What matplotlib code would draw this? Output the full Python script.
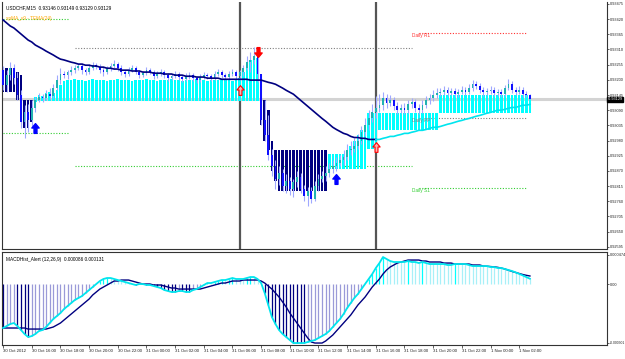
import matplotlib
matplotlib.use('Agg')
import matplotlib.pyplot as plt
import numpy as np
from matplotlib.path import Path

plt.rcParams['font.family'] = ['Liberation Sans Narrow', 'Liberation Sans', 'DejaVu Sans']

# ---------------- data (prices in points: 1 point = 0.00001) ----------------
tick_labels = ["30 Oct 2012", "30 Oct 16:00", "30 Oct 18:00", "30 Oct 20:00", "30 Oct 22:00",
               "31 Oct 00:00", "31 Oct 02:00", "31 Oct 04:00", "31 Oct 06:00", "31 Oct 08:00",
               "31 Oct 10:00", "31 Oct 12:00", "31 Oct 14:00", "31 Oct 16:00", "31 Oct 18:00",
               "31 Oct 20:00", "31 Oct 22:00", "1 Nov 00:00", "1 Nov 02:00"]
tick_bars = [0, 8, 16, 24, 32, 40, 48, 56, 64, 72, 80, 88, 96, 104, 112, 120, 128, 136, 144]

opens = [93235, 93181, 93217, 93242, 93206, 93144, 93046, 93082, 93053, 93097,
         93126, 93137, 93133, 93148, 93141, 93170, 93199, 93221, 93217, 93228,
         93235, 93242, 93250, 93235, 93228, 93242, 93253, 93246, 93235, 93228,
         93239, 93250, 93257, 93242, 93228, 93221, 93235, 93242, 93228, 93217,
         93224, 93235, 93228, 93213, 93221, 93228, 93217, 93206, 93213, 93221,
         93210, 93202, 93213, 93217, 93206, 93199, 93210, 93217, 93213, 93206,
         93221, 93228, 93217, 93210, 93221, 93228, 93213, 93228, 93242, 93264,
         93272, 93286, 93221, 93053, 92999, 92926, 92889, 92842, 92864, 92817,
         92835, 92806, 92828, 92849, 92806, 92780, 92798, 92769, 92817, 92842,
         92853, 92864, 92878, 92889, 92900, 92908, 92922, 92944, 92951, 92962,
         92980, 93010, 93035, 93060, 93082, 93097, 93108, 93133, 93115, 93126,
         93104, 93090, 93097, 93090, 93111, 93119, 93097, 93090, 93108, 93126,
         93133, 93144, 93151, 93155, 93162, 93151, 93159, 93148, 93155, 93162,
         93155, 93170, 93184, 93177, 93162, 93155, 93159, 93162, 93151, 93155,
         93148, 93170, 93184, 93162, 93155, 93162, 93148, 93146]
highs = [93250, 93235, 93264, 93257, 93228, 93162, 93108, 93111, 93126, 93137,
         93151, 93148, 93162, 93170, 93184, 93217, 93242, 93232, 93235, 93250,
         93253, 93257, 93261, 93242, 93257, 93264, 93261, 93257, 93246, 93250,
         93261, 93272, 93264, 93253, 93235, 93246, 93253, 93250, 93235, 93232,
         93246, 93242, 93235, 93232, 93239, 93235, 93224, 93221, 93232, 93228,
         93217, 93224, 93228, 93224, 93213, 93221, 93228, 93224, 93221, 93232,
         93239, 93235, 93224, 93232, 93239, 93235, 93235, 93253, 93286, 93301,
         93319, 93293, 93221, 93126, 93071, 92951, 92908, 92889, 92878, 92857,
         92849, 92842, 92871, 92864, 92820, 92813, 92813, 92835, 92857, 92871,
         92886, 92900, 92908, 92922, 92929, 92944, 92966, 92980, 92988, 93002,
         93031, 93060, 93090, 93111, 93141, 93148, 93155, 93148, 93144, 93137,
         93119, 93111, 93115, 93126, 93133, 93130, 93111, 93126, 93141, 93148,
         93162, 93170, 93170, 93177, 93173, 93170, 93170, 93166, 93177, 93173,
         93184, 93199, 93195, 93188, 93173, 93170, 93177, 93173, 93166, 93166,
         93181, 93202, 93195, 93173, 93177, 93173, 93159, 93149]
lows = [93162, 93155, 93199, 93184, 93126, 93024, 92988, 93010, 93031, 93082,
        93119, 93119, 93126, 93130, 93133, 93162, 93184, 93206, 93202, 93217,
        93224, 93235, 93221, 93217, 93221, 93235, 93239, 93224, 93213, 93221,
        93232, 93242, 93232, 93217, 93210, 93213, 93228, 93221, 93206, 93210,
        93217, 93221, 93202, 93206, 93213, 93206, 93195, 93199, 93206, 93199,
        93192, 93195, 93202, 93195, 93188, 93192, 93202, 93202, 93195, 93199,
        93213, 93206, 93199, 93202, 93213, 93202, 93199, 93213, 93235, 93228,
        93257, 93192, 93035, 92980, 92908, 92853, 92806, 92820, 92798, 92791,
        92784, 92777, 92813, 92791, 92762, 92744, 92755, 92762, 92798, 92828,
        92835, 92849, 92864, 92871, 92886, 92893, 92908, 92926, 92937, 92951,
        92966, 92995, 93017, 93046, 93060, 93082, 93090, 93097, 93104, 93090,
        93075, 93079, 93075, 93079, 93097, 93082, 93075, 93079, 93097, 93111,
        93122, 93133, 93141, 93144, 93141, 93144, 93137, 93137, 93148, 93144,
        93148, 93159, 93166, 93151, 93141, 93144, 93148, 93141, 93141, 93137,
        93141, 93162, 93151, 93144, 93148, 93137, 93137, 93129]
closes = [93181, 93217, 93242, 93206, 93144, 93046, 93082, 93053, 93097, 93126,
          93137, 93133, 93148, 93141, 93170, 93199, 93221, 93217, 93228, 93235,
          93242, 93250, 93235, 93228, 93242, 93253, 93246, 93235, 93228, 93239,
          93250, 93257, 93242, 93228, 93221, 93235, 93242, 93228, 93217, 93224,
          93235, 93228, 93213, 93221, 93228, 93217, 93206, 93213, 93221, 93210,
          93202, 93213, 93217, 93206, 93199, 93210, 93217, 93213, 93206, 93221,
          93228, 93217, 93210, 93221, 93228, 93213, 93228, 93242, 93264, 93272,
          93286, 93221, 93053, 92999, 92926, 92889, 92842, 92864, 92817, 92835,
          92806, 92828, 92849, 92806, 92780, 92798, 92769, 92817, 92842, 92853,
          92864, 92878, 92889, 92900, 92908, 92922, 92944, 92951, 92962, 92980,
          93010, 93035, 93060, 93082, 93097, 93108, 93133, 93115, 93126, 93104,
          93090, 93097, 93090, 93111, 93119, 93097, 93090, 93108, 93126, 93133,
          93144, 93151, 93155, 93162, 93151, 93159, 93148, 93155, 93162, 93155,
          93170, 93184, 93177, 93162, 93155, 93159, 93162, 93151, 93155, 93148,
          93170, 93184, 93162, 93155, 93162, 93148, 93146, 93129]

# thick histogram bodies of the xpMA overlay (top, bottom, 1 = up colour)
ha_hi = [93242, 93242, 93242, 93242, 93228, 93217, 93126, 93126, 93126, 93137,
         93144, 93141, 93151, 93155, 93151, 93162, 93181, 93195, 93199, 93199,
         93202, 93199, 93199, 93195, 93199, 93202, 93199, 93199, 93199, 93195,
         93199, 93199, 93202, 93199, 93199, 93199, 93195, 93199, 93199, 93199,
         93202, 93199, 93199, 93195, 93199, 93199, 93199, 93202, 93199, 93199,
         93195, 93199, 93199, 93199, 93202, 93199, 93199, 93195, 93199, 93199,
         93199, 93202, 93199, 93199, 93195, 93199, 93206, 93228, 93253, 93272,
         93279, 93279, 93199, 93126, 93090, 92980, 92944, 92944, 92944, 92944,
         92944, 92944, 92944, 92944, 92944, 92944, 92944, 92944, 92944, 92944,
         92944, 92933, 92933, 92933, 92933, 92933, 92933, 92962, 92980, 92999,
         93017, 93035, 93079, 93079, 93079, 93079, 93079, 93079, 93079, 93079,
         93079, 93079, 93079, 93079, 93079, 93079, 93079, 93079, 93079, 93079,
         93079, 93079, 93144, 93144, 93144, 93144, 93144, 93144, 93144, 93144,
         93144, 93144, 93144, 93144, 93144, 93144, 93144, 93144, 93144, 93144,
         93144, 93144, 93144, 93144, 93144, 93144, 93144, 93144]
ha_lo = [93155, 93155, 93155, 93155, 93126, 93046, 93024, 93024, 93046, 93119,
         93122, 93122, 93122, 93122, 93122, 93122, 93122, 93122, 93122, 93122,
         93122, 93122, 93122, 93122, 93122, 93122, 93122, 93122, 93122, 93122,
         93122, 93122, 93122, 93122, 93122, 93122, 93122, 93122, 93122, 93122,
         93122, 93122, 93122, 93122, 93122, 93122, 93122, 93122, 93122, 93122,
         93122, 93122, 93122, 93122, 93122, 93122, 93122, 93122, 93122, 93122,
         93122, 93122, 93122, 93122, 93122, 93122, 93122, 93122, 93122, 93122,
         93122, 93122, 93035, 92980, 92944, 92871, 92835, 92798, 92798, 92798,
         92798, 92798, 92798, 92798, 92798, 92798, 92798, 92798, 92798, 92798,
         92798, 92878, 92878, 92878, 92878, 92878, 92878, 92878, 92878, 92878,
         92878, 92878, 92951, 92951, 92951, 93017, 93017, 93017, 93017, 93017,
         93017, 93017, 93017, 93017, 93017, 93017, 93017, 93017, 93017, 93017,
         93017, 93017, 93079, 93079, 93079, 93079, 93079, 93079, 93079, 93079,
         93079, 93079, 93079, 93079, 93079, 93079, 93079, 93079, 93079, 93079,
         93079, 93079, 93079, 93079, 93079, 93079, 93079, 93079]
ha_up = [0] * 9 + [1] * 63 + [0] * 19 + [1] * 57

tema_down = [93417, 93406, 93395, 93388, 93377, 93366, 93355, 93344, 93337, 93326,
             93319, 93312, 93304, 93297, 93290, 93282, 93275, 93272, 93268, 93264,
             93261, 93257, 93257, 93253, 93253, 93250, 93250, 93246, 93246, 93242,
             93242, 93239, 93239, 93235, 93235, 93235, 93232, 93232, 93232, 93228,
             93228, 93228, 93224, 93224, 93224, 93221, 93221, 93221, 93217, 93217,
             93217, 93213, 93213, 93213, 93210, 93210, 93210, 93206, 93206, 93206,
             93206, 93202, 93202, 93202, 93202, 93202, 93202, 93202, 93202, 93199,
             93199, 93199, 93199, 93195, 93191, 93188, 93184, 93177, 93170, 93162,
             93155, 93148, 93137, 93126, 93115, 93104, 93093, 93082, 93071, 93060,
             93050, 93039, 93028, 93020, 93013, 93006, 93002, 92995, 92991, 92991,
             92988, 92988, 92984, 92984, 92984]
tema_up = [92984, 92984, 92988, 92991, 92995, 92995, 92999, 93002, 93006, 93006,
           93010, 93013, 93017, 93017, 93020, 93024, 93028, 93028, 93031, 93035,
           93039, 93042, 93046, 93050, 93053, 93057, 93060, 93064, 93068, 93071,
           93075, 93079, 93082, 93086, 93090, 93090, 93093, 93097, 93100, 93100,
           93104, 93108, 93108, 93111]

# MACD values in units of 1e-6
macd_main = [-717, -685, -652, -636, -685, -750, -815, -864, -848, -815,
             -766, -750, -701, -636, -571, -522, -473, -408, -359, -310,
             -261, -228, -196, -147, -98, -49, 0, 49, 82, 98,
             98, 82, 65, 49, 33, 16, 0, -16, 0, 0,
             -16, -16, -33, -49, -65, -98, -114, -130, -130, -114,
             -114, -130, -130, -98, -82, -49, -16, 16, 16, 33,
             49, 65, 65, 82, 98, 82, 82, 82, 98, 114,
             114, 82, 16, -147, -342, -538, -652, -750, -815, -864,
             -913, -962, -962, -962, -962, -945, -929, -913, -880, -848,
             -815, -766, -701, -636, -571, -489, -391, -310, -228, -163,
             -82, 0, 82, 163, 261, 342, 440, 408, 375, 359,
             359, 359, 359, 375, 359, 359, 342, 359, 342, 326,
             326, 326, 326, 326, 310, 310, 326, 326, 326, 326,
             310, 293, 293, 293, 293, 293, 277, 277, 261, 261,
             245, 228, 212, 190, 165, 140, 112, 86]
macd_signal = [-717, -717, -717, -717, -717, -717, -717, -734, -734, -734,
               -734, -734, -734, -717, -701, -668, -636, -587, -538, -489,
               -440, -391, -342, -293, -245, -179, -130, -82, -49, -16,
               16, 49, 49, 65, 65, 65, 49, 33, 16, 0,
               0, 0, -16, -16, -16, -33, -49, -65, -65, -82,
               -82, -82, -82, -82, -82, -82, -65, -49, -33, -16,
               0, 16, 16, 33, 49, 49, 49, 65, 65, 65,
               65, 65, 49, 16, -33, -82, -147, -212, -293, -375,
               -473, -554, -636, -717, -799, -880, -945, -962, -962, -962,
               -929, -880, -831, -766, -701, -636, -571, -505, -424, -342,
               -277, -212, -130, -49, 16, 82, 163, 228, 277, 310,
               342, 359, 375, 391, 391, 391, 391, 375, 375, 359,
               359, 359, 359, 342, 342, 342, 326, 326, 326, 326,
               326, 310, 310, 310, 293, 290, 285, 280, 272, 260,
               245, 225, 205, 188, 170, 155, 142, 131]

# pivot segments: (first bar, last bar, price, colour key)
pivots = [(0, 18, 93421, 'g'), (0, 18, 93006, 'g'),
          (20, 114, 93315, 'k'), (20, 114, 92886, 'g'),
          (116, 146, 93370, 'r'), (116, 146, 93060, 'k'), (116, 146, 92809, 'g')]
pivot_labels = [(114, 93370, "Daily R1", 'r'), (114, 93060, "Daily PP", 'k'), (114, 92809, "Daily S1", 'g')]
arrows = [(9, 93024, 'up', 'blue'), (71, 93301, 'down', 'red'), (66, 93162, 'up_hollow', 'red'),
          (104, 92955, 'up_hollow', 'red'), (93, 92842, 'up', 'blue')]
vlines_bars = [66, 104]
price_ticks = [93475, 93420, 93365, 93310, 93255, 93200, 93145, 93090, 93035,
               92980, 92925, 92870, 92815, 92760, 92705, 92650, 92595]
current_price = 93129
macd_tick_vals = [0.000474, 0.0, -0.000955]
macd_tick_text = ['0.000474', '0.00', '-0.000301']

# ---------------- figure ----------------
W, H = 625, 359
fig = plt.figure(figsize=(W / 100, H / 100), dpi=100)
fig.patch.set_facecolor('white')
FS = 3.4
FSY = 2.8


def rect(x0, y0, x1, y1):
    return [x0 / W, 1 - y1 / H, (x1 - x0) / W, (y1 - y0) / H]


ax = fig.add_axes(rect(2, 2, 607, 249))
ax2 = fig.add_axes(rect(2, 252, 607, 345))
n = len(closes)
xs = np.arange(n)
XL = (-0.3, 168.5)

P = 1e-5
o = np.array(opens) * P
h = np.array(highs) * P
l = np.array(lows) * P
c = np.array(closes) * P

# histogram bodies
hh = np.array(ha_hi) * P
hl = np.array(ha_lo) * P
cols = ['#00ffff' if u else '#000080' for u in ha_up]
ax.bar(xs, hh - hl, bottom=hl, width=0.72, color=cols, linewidth=0, zorder=2)

# candles
for i in range(n):
    bull = c[i] >= o[i]
    ax.vlines(i, l[i], h[i], color='#9fa8ff', lw=0.8, zorder=3)
    ax.bar(i, max(abs(c[i] - o[i]), 0.000015), bottom=min(o[i], c[i]), width=0.5,
           color='#20b2b2' if bull else '#1010ff', linewidth=0, zorder=4)

# current price line
ax.axhline(current_price * P, color='#d3d3d3', lw=2.2, zorder=1)

# TEMA
ax.plot(xs[:len(tema_down)], np.array(tema_down) * P, color='#000080', lw=1.2, zorder=5)
ax.plot(xs[len(tema_down) - 1:], np.array(tema_up) * P, color='#00e5ee', lw=1.2, zorder=5)

# pivots
pcol = {'g': '#32cd32', 'k': '#808080', 'r': '#ff3030'}
for a, b, p, k in pivots:
    ax.plot([a, b], [p * P, p * P], color=pcol[k], lw=0.8, ls=(0, (1, 1.5)), zorder=1)
for b, p, t, k in pivot_labels:
    ax.text(b, p * P, t, color=pcol[k], fontsize=FS, va='top', ha='left', zorder=6)

for b in vlines_bars:
    ax.axvline(b, color='#555555', lw=1.6, zorder=1)

# arrows
up_path = Path([(0, 1), (-0.75, 0.1), (-0.3, 0.1), (-0.3, -1), (0.3, -1), (0.3, 0.1), (0.75, 0.1), (0, 1)], closed=True)
down_path = Path([(0, -1), (-0.75, -0.1), (-0.3, -0.1), (-0.3, 1), (0.3, 1), (0.3, -0.1), (0.75, -0.1), (0, -1)], closed=True)
for b, p, kind, col in arrows:
    if kind == 'up':
        ax.plot(b, p * P, marker=up_path, ms=7, color=col, mec=col, zorder=7)
    elif kind == 'down':
        ax.plot(b, p * P, marker=down_path, ms=7, color=col, mec=col, zorder=7)
    else:
        ax.plot(b, p * P, marker=up_path, ms=7, mfc='#ffb0b0', mec=col, mew=0.8, zorder=7)

ax.set_xlim(*XL)
ax.set_ylim(0.92587, 0.93482)
ax.set_xticks([])
ax.yaxis.tick_right()
ax.set_yticks(np.array(price_ticks) * P)
ax.set_yticklabels(['%.5f' % (t * P) for t in price_ticks])
ax.tick_params(axis='y', labelsize=FSY, length=1.5, width=0.5, pad=0.5, colors='#222222')
ax.text(1.0, current_price * P, ' %.5f' % (current_price * P), transform=ax.get_yaxis_transform(),
        fontsize=FSY, color='white', va='center', ha='left',
        bbox=dict(boxstyle='square,pad=0.1', fc='black', ec='black'), zorder=10, clip_on=False)
for s in ax.spines.values():
    s.set_color('#333333')
    s.set_linewidth(0.8)
ax.spines['top'].set_visible(False)

ax.text(0.006, 0.985, 'USDCHF,M15  0.93146 0.93149 0.93129 0.93129', transform=ax.transAxes,
        fontsize=FS, color='black', va='top', ha='left')
ax.text(0.006, 0.945, 'xpMA_v9 - TEMA(24)', transform=ax.transAxes,
        fontsize=FS, color='#ffa500', va='top', ha='left')

# ---------------- MACD ----------------
m = np.array(macd_main) * 1e-6
s_ = np.array(macd_signal) * 1e-6
hcols = []
for i in range(n):
    rising = i > 0 and m[i] > m[i - 1]
    if m[i] >= 0:
        hcols.append('#00ffff' if rising else '#a8f0f8')
    else:
        hcols.append('#9a9ad8' if rising else '#000080')
ax2.vlines(xs, 0, m, colors=hcols, lw=0.9, zorder=2)
ax2.plot(xs, s_, color='#000080', lw=1.0, zorder=3)
ax2.plot(xs, m, color='#00e5ee', lw=1.3, zorder=4)
ax2.set_xlim(*XL)
ax2.set_ylim(-0.000994, 0.000522)
ax2.yaxis.tick_right()
ax2.set_yticks(macd_tick_vals)
ax2.set_yticklabels(macd_tick_text)
ax2.tick_params(axis='y', labelsize=FSY, length=1.5, width=0.5, pad=0.5, colors='#222222')
ax2.get_yticklabels()[2].set_fontsize(2.4)
ax2.set_xticks(tick_bars)
ax2.set_xticklabels(tick_labels, ha='left')
ax2.tick_params(axis='x', labelsize=FSY + 0.3, length=2, width=0.5, pad=1, colors='#222222')
for s in ax2.spines.values():
    s.set_color('#333333')
    s.set_linewidth(0.8)
ax2.text(0.006, 0.95, 'MACDHist_Alert (12,26,9)  0.000086 0.000131', transform=ax2.transAxes,
         fontsize=FS, color='black', va='top', ha='left')

fig.savefig('out.png', dpi=100, facecolor='white')
